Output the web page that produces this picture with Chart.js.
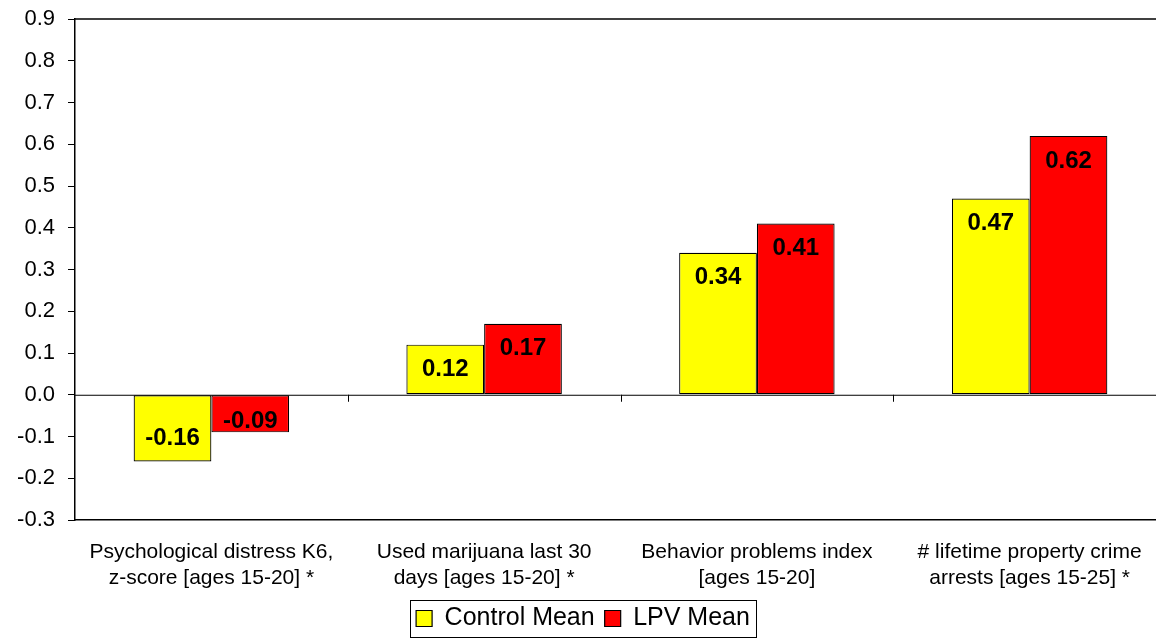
<!DOCTYPE html>
<html>
<head>
<meta charset="utf-8">
<script src="https://cdn.jsdelivr.net/npm/chart.js@4"></script>
<style>
  html, body { margin: 0; padding: 0; background: #fff; overflow: hidden; }
</style>
</head>
<body>
<canvas id="chart" width="1170" height="641"></canvas>
<script>
// Dữ liệu
const categories = [
    ['Psychological distress K6,', 'z-score [ages 15-20] *'],
    ['Used marijuana last 30', 'days [ages 15-20] *'],
    ['Behavior problems index', '[ages 15-20]'],
    ['# lifetime property crime', 'arrests [ages 15-25] *']
];
const controlMean = [-0.16, 0.12, 0.34, 0.47];
const lpvMean = [-0.09, 0.17, 0.41, 0.62];
const yMin = -0.3;
const yMax = 0.9;
const yStep = 0.1;

const FONT = "'Liberation Sans', Arial, sans-serif";

// Vẽ đường 0, vạch chia nhóm và viền trên
const axisExtras = {
    id: 'axisExtras',
    beforeDatasetsDraw(chart) {
        const { ctx, chartArea, scales } = chart;
        const y0 = scales.y.getPixelForValue(0);
        ctx.save();
        ctx.strokeStyle = '#000';
        ctx.lineWidth = 1;
        ctx.beginPath();
        ctx.moveTo(chartArea.left, y0 + 0.5);
        ctx.lineTo(chartArea.right, y0 + 0.5);
        for (let i = 1; i < categories.length; i++) {
            const x = Math.round((scales.x.getPixelForValue(i - 1) + scales.x.getPixelForValue(i)) / 2) + 0.5;
            ctx.moveTo(x, y0);
            ctx.lineTo(x, y0 + 7);
        }
        ctx.stroke();
        // viền trên vùng vẽ
        ctx.lineWidth = 1.5;
        ctx.beginPath();
        ctx.moveTo(chartArea.left, chartArea.top);
        ctx.lineTo(chartArea.right, chartArea.top);
        ctx.stroke();
        ctx.restore();
    }
};

// Nhãn giá trị bên trong cột
const valueLabels = {
    id: 'valueLabels',
    afterDatasetsDraw(chart) {
        const { ctx } = chart;
        ctx.save();
        ctx.font = 'bold 24px ' + FONT;
        ctx.fillStyle = '#000';
        ctx.textAlign = 'center';
        ctx.textBaseline = 'middle';
        chart.data.datasets.forEach((ds, di) => {
            chart.getDatasetMeta(di).data.forEach((bar, i) => {
                const v = ds.data[i];
                let y;
                if (v >= 0) {
                    y = bar.y + 25;
                } else {
                    y = Math.max(bar.y - 23, bar.base + 26);
                }
                ctx.fillText(v.toFixed(2), bar.x, y);
            });
        });
        ctx.restore();
    }
};

// Khung quanh chú thích
const legendFrame = {
    id: 'legendFrame',
    afterDraw(chart) {
        const boxes = chart.legend.legendHitBoxes;
        if (!boxes || !boxes.length) return;
        const left = Math.min(...boxes.map(b => b.left)) - 6;
        const right = Math.max(...boxes.map(b => b.left + b.width)) + 6;
        const top = Math.min(...boxes.map(b => b.top)) - 6;
        const bottom = Math.max(...boxes.map(b => b.top + b.height)) + 6;
        const { ctx } = chart;
        ctx.save();
        ctx.strokeStyle = '#000';
        ctx.lineWidth = 1;
        ctx.strokeRect(Math.round(left) + 0.5, Math.round(top) + 0.5, Math.round(right - left), Math.round(bottom - top));
        ctx.restore();
    }
};

const ctx = document.getElementById('chart').getContext('2d');
new Chart(ctx, {
    type: 'bar',
    data: {
        labels: categories,
        datasets: [
            {
                label: 'Control Mean',
                data: controlMean,
                backgroundColor: '#ffff00',
                borderColor: '#000',
                borderWidth: 1.2,
                borderSkipped: false,
                categoryPercentage: 0.57,
                barPercentage: 1
            },
            {
                label: 'LPV Mean',
                data: lpvMean,
                backgroundColor: '#ff0000',
                borderColor: '#000',
                borderWidth: 1.2,
                borderSkipped: false,
                categoryPercentage: 0.57,
                barPercentage: 1
            }
        ]
    },
    options: {
        responsive: false,
        animation: false,
        layout: { padding: { top: 19, right: 4, left: 0, bottom: 0 } },
        plugins: {
            tooltip: { enabled: false },
            legend: {
                position: 'bottom',
                labels: {
                    color: '#000',
                    font: { family: FONT, size: 25 },
                    boxWidth: 16,
                    boxHeight: 16,
                    padding: 10
                }
            }
        },
        scales: {
            x: {
                grid: { display: false, drawTicks: false },
                border: { display: true, color: '#000', width: 1.5 },
                ticks: {
                    color: '#000',
                    font: { family: FONT, size: 21 },
                    padding: 20,
                    maxRotation: 0,
                    autoSkip: false
                },
                afterFit(scale) {
                    scale.height = 76;
                    scale.paddingLeft = 0;
                    scale.paddingRight = 0;
                }
            },
            y: {
                min: yMin,
                max: yMax,
                grid: { drawOnChartArea: false, drawTicks: true, tickLength: 7, color: '#000' },
                border: { display: true, color: '#000', width: 1.5 },
                ticks: {
                    stepSize: yStep,
                    color: '#000',
                    font: { family: FONT, size: 22 },
                    padding: 13,
                    callback: v => v.toFixed(1)
                },
                afterFit(scale) {
                    scale.width = 75;
                    scale.paddingTop = 0;
                    scale.paddingBottom = 0;
                }
            }
        }
    },
    plugins: [axisExtras, valueLabels, legendFrame]
});
</script>
</body>
</html>
